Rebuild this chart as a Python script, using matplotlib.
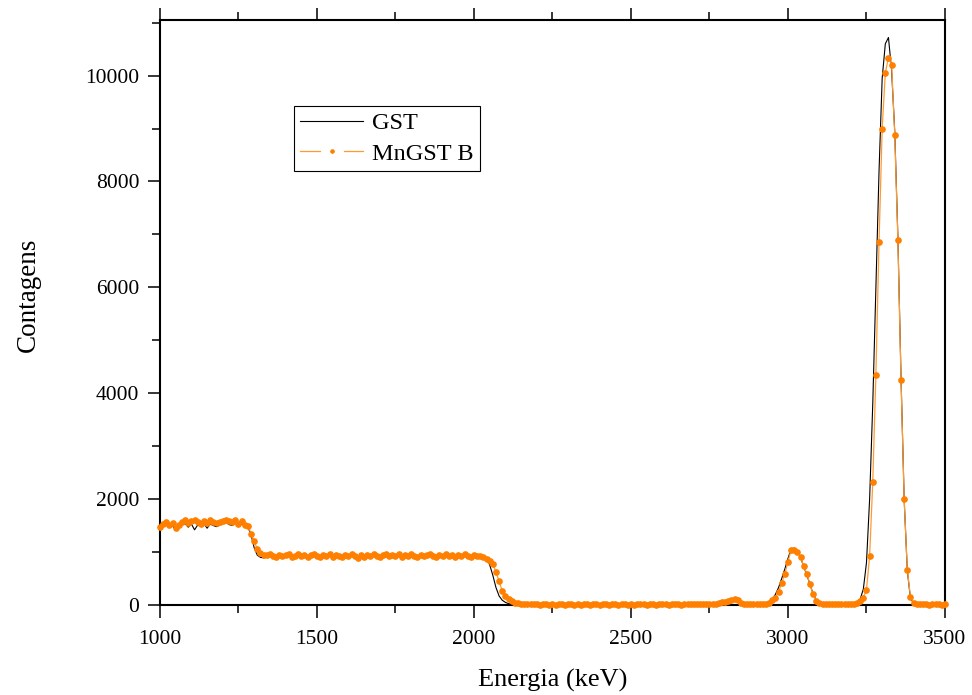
#plot.py
#Espectro de contagens GST vs MnGST B

import matplotlib
matplotlib.use('Agg')
import matplotlib.pyplot as plt
from matplotlib.lines import Line2D
from matplotlib.ticker import MultipleLocator
import numpy as np

# energy channels (keV)
energia = np.arange(1000, 3501, 10)

# counts, one row per 100 keV
gst = [1460, 1490, 1510, 1470, 1500, 1410, 1480, 1520, 1540, 1470,
       1530, 1420, 1510, 1490, 1540, 1450, 1530, 1500, 1480, 1510,
       1540, 1560, 1520, 1500, 1550, 1480, 1530, 1500, 1470, 1330,
       1080, 940, 900, 890, 910, 930, 900, 870, 920, 900,
       910, 940, 890, 900, 930, 900, 920, 880, 910, 940,
       900, 890, 920, 900, 930, 880, 910, 900, 890, 920,
       900, 930, 910, 870, 910, 890, 920, 900, 930, 900,
       880, 910, 930, 900, 920, 910, 940, 890, 910, 900,
       930, 900, 880, 920, 900, 910, 940, 900, 890, 920,
       900, 930, 910, 920, 880, 920, 900, 930, 910, 890,
       910, 900, 920, 880, 870, 760, 560, 330, 170, 90,
       50, 25, 15, 12, 10, 9, 10, 8, 9, 10,
       8, 9, 10, 8, 9, 10, 8, 9, 10, 8,
       9, 8, 10, 9, 8, 10, 9, 8, 9, 10,
       8, 9, 10, 8, 9, 8, 10, 9, 8, 9,
       10, 8, 9, 10, 8, 9, 10, 8, 9, 10,
       9, 8, 10, 9, 10, 8, 9, 10, 9, 10,
       10, 11, 10, 12, 11, 13, 15, 20, 30, 45,
       60, 75, 90, 100, 85, 35, 15, 12, 10, 11,
       12, 14, 18, 25, 50, 100, 200, 330, 500, 680,
       880, 1060, 1075, 1020, 900, 730, 570, 390, 210, 90,
       35, 18, 12, 10, 10, 11, 10, 12, 11, 14,
       20, 30, 50, 110, 300, 800, 2000, 3800, 6000, 8200,
       9950, 10600, 10720, 10100, 8950, 6950, 4300, 2000, 650, 130,
       30, 12, 9, 8, 9, 8, 9, 8, 9, 8,
       8]

mngst_b = [1480, 1530, 1560, 1510, 1540, 1450, 1520, 1570, 1600, 1540,
           1580, 1600, 1560, 1530, 1590, 1550, 1600, 1570, 1540, 1560,
           1590, 1610, 1580, 1560, 1600, 1530, 1580, 1520, 1500, 1350,
           1200, 1060, 990, 950, 940, 960, 930, 900, 950, 920,
           940, 970, 910, 930, 960, 920, 950, 900, 940, 970,
           930, 910, 950, 920, 960, 900, 940, 930, 910, 950,
           920, 960, 930, 890, 940, 910, 950, 920, 960, 930,
           900, 940, 960, 920, 950, 930, 970, 910, 940, 920,
           960, 930, 900, 950, 920, 940, 970, 930, 910, 950,
           920, 960, 930, 940, 900, 950, 920, 960, 930, 910,
           940, 920, 930, 900, 870, 830, 780, 620, 450, 260,
           170, 110, 70, 45, 30, 20, 15, 12, 10, 12,
           10, 8, 12, 10, 9, 11, 8, 10, 12, 9,
           10, 11, 9, 12, 8, 10, 11, 9, 10, 12,
           9, 10, 12, 8, 11, 10, 9, 12, 10, 8,
           11, 9, 10, 12, 10, 8, 11, 10, 9, 12,
           10, 11, 9, 10, 12, 10, 9, 11, 13, 12,
           14, 13, 15, 14, 16, 17, 20, 25, 35, 50,
           65, 80, 95, 105, 95, 40, 22, 18, 16, 17,
           18, 20, 22, 25, 40, 85, 140, 250, 415, 590,
           820, 1040, 1045, 1010, 910, 730, 590, 390, 200, 80,
           35, 22, 18, 16, 15, 17, 16, 18, 17, 20,
           22, 28, 40, 75, 140, 290, 920, 2320, 4350, 6860,
           9000, 10050, 10340, 10200, 8880, 6900, 4250, 2000, 670, 150,
           40, 18, 12, 10, 11, 9, 10, 12, 10, 9,
           10]

labels = ['GST', 'MnGST B']

laranja = '#ff8000'
laranja_linha = '#ff9a33'


def main():
    plt.rcParams['font.family'] = ['Liberation Serif', 'DejaVu Serif']

    fig = plt.figure(figsize=(9.72, 6.95), dpi=100)
    ax = fig.add_axes([0.1646, 0.1295, 0.8076, 0.8417])

    # black line first, orange dots on top
    ax.plot(energia, gst, color='black', lw=0.8, zorder=2)
    ax.plot(energia, mngst_b, color=laranja_linha, lw=0.9, zorder=3)
    ax.plot(energia, mngst_b, ls='none', marker='o', ms=3.8,
            color=laranja, mec=laranja, zorder=4, clip_on=False)

    ax.set_xlim(1000, 3500)
    ax.set_ylim(0, 11050)

    ax.xaxis.set_major_locator(MultipleLocator(500))
    ax.xaxis.set_minor_locator(MultipleLocator(250))
    ax.yaxis.set_major_locator(MultipleLocator(2000))
    ax.yaxis.set_minor_locator(MultipleLocator(1000))

    ax.tick_params(which='both', direction='out', top=True, right=False,
                   labeltop=False, width=1.1, labelsize=15.5)
    ax.tick_params(which='major', length=9, pad=6)
    ax.tick_params(axis='x', which='major', pad=9)
    ax.tick_params(which='minor', length=5.5)
    for s in ax.spines.values():
        s.set_linewidth(1.5)

    ax.set_xlabel('Energia (keV)', fontsize=19, labelpad=14)
    ax.set_ylabel('Contagens', fontsize=19.5)
    # label sits a bit above the middle in the original
    ax.yaxis.set_label_coords(-0.152, 0.53)

    # legend handles: line with a gap round the dot like in Origin
    h1 = Line2D([], [], color='black', lw=0.8)
    h2 = Line2D([], [], color=laranja_linha, lw=0.9, marker='o', ms=10,
                mfc=laranja, mec='white', mew=6.5)
    leg = ax.legend([h1, h2], labels, loc='upper left',
                    bbox_to_anchor=(0.171, 0.853), borderaxespad=0,
                    fontsize=17.5, fancybox=False, framealpha=1,
                    edgecolor='black', handlelength=2.6, handletextpad=0.35,
                    labelspacing=0.35, borderpad=0.25)
    leg.get_frame().set_linewidth(0.8)

    fig.savefig('out.png', dpi=100)


main()
